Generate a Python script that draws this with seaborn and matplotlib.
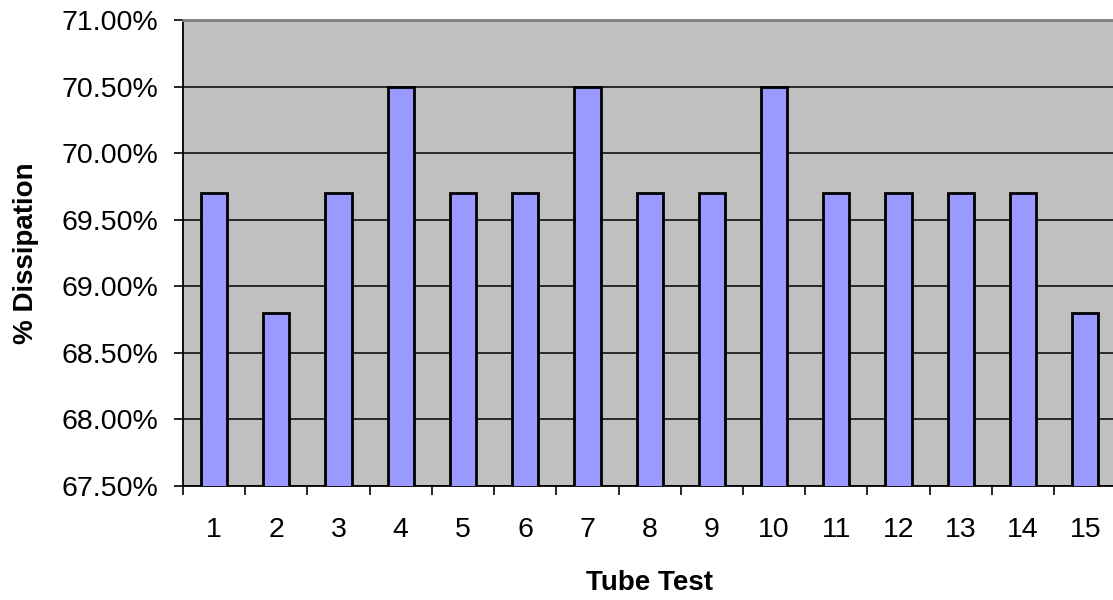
import numpy as np
import pandas as pd
import matplotlib
matplotlib.use("Agg")
import matplotlib.pyplot as plt
from matplotlib.ticker import PercentFormatter, FixedLocator
import seaborn as sns

# data
tests = [str(i) for i in range(1, 16)]
dissipation = [0.697, 0.688, 0.697, 0.705, 0.697, 0.697, 0.705, 0.697,
               0.697, 0.705, 0.697, 0.697, 0.697, 0.697, 0.688]
y_ticks = [0.675, 0.680, 0.685, 0.690, 0.695, 0.700, 0.705, 0.710]

df = pd.DataFrame({"Tube Test": tests, "Dissipation": dissipation})

sns.set_style("white")
plt.rcParams['font.family'] = ['Liberation Sans', 'DejaVu Sans']
plt.rcParams['text.color'] = 'black'
plt.rcParams['axes.labelcolor'] = 'black'
plt.rcParams['xtick.color'] = 'black'
plt.rcParams['ytick.color'] = 'black'

fig = plt.figure(figsize=(11.13, 6.0), dpi=100)
ax = fig.add_axes([0.1644, 0.19, 0.8386, 0.7767])
ax.set_facecolor("#C0C0C0")

sns.barplot(data=df, x="Tube Test", y="Dissipation", color="#9999FF",
            saturation=1, width=0.42, edgecolor="black", linewidth=2,
            ax=ax, zorder=3)

ax.set_ylim(0.675, 0.710)
ax.set_xlim(-0.5, 14.5)
ax.set_yticks(y_ticks)
ax.yaxis.set_major_formatter(PercentFormatter(xmax=1, decimals=2))
ax.grid(axis="y", color="black", linewidth=1.1, zorder=1)
ax.set_axisbelow(True)

# x ticks: labels at centers, tick marks at category boundaries
ax.tick_params(axis="x", which="major", length=0, pad=22, labelsize=20.5)
ax.xaxis.set_minor_locator(FixedLocator(np.arange(-0.5, 15, 1)))
ax.tick_params(axis="x", which="minor", length=6.5, width=1.2, color="black",
               bottom=True)
ax.tick_params(axis="y", length=6.5, width=1.2, color="black", left=True,
               pad=11.5, labelsize=20.5)

for s in ["left", "bottom"]:
    ax.spines[s].set_color("black")
    ax.spines[s].set_linewidth(1.3)
ax.spines["top"].set_color("#808080")
ax.spines["top"].set_linewidth(2)
ax.spines["right"].set_visible(False)

ax.set_xlabel("Tube Test", fontsize=20, fontweight="bold", labelpad=20)
ax.set_ylabel("% Dissipation", fontsize=20, fontweight="bold")
ax.yaxis.set_label_coords(-0.154, 0.5)

fig.savefig("out.png", dpi=100)
